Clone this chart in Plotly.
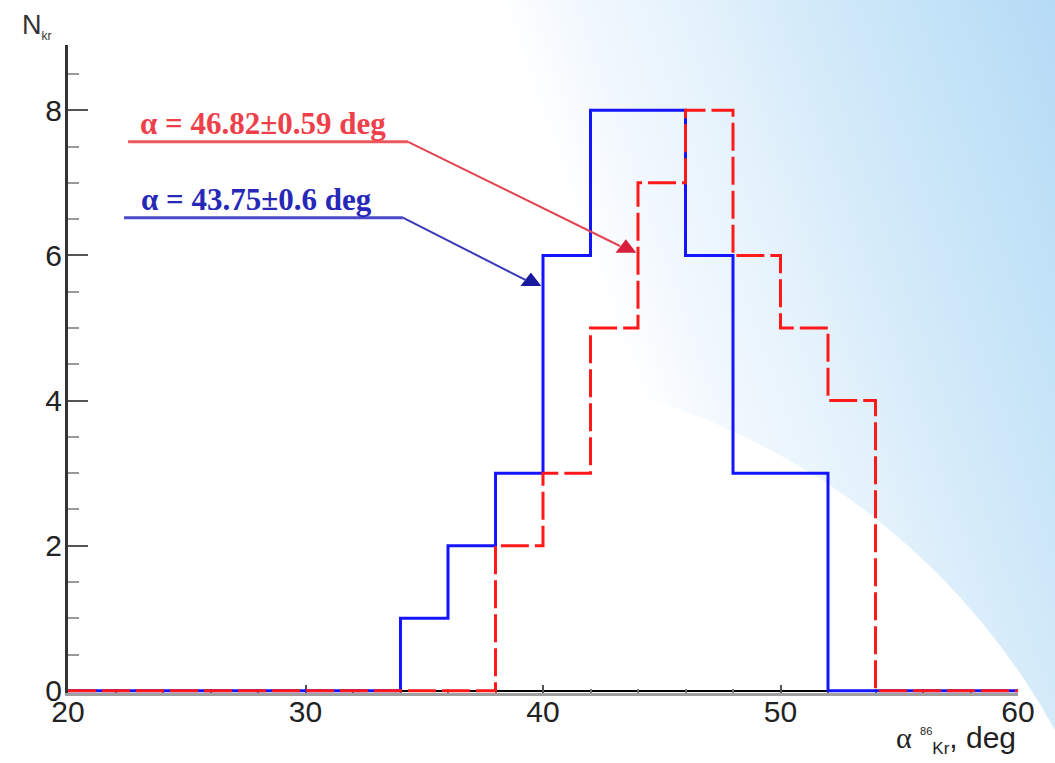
import base64
import plotly.graph_objects as go

# ---------------- data ----------------
bin_edges = [20 + 2 * i for i in range(21)]          # 20 .. 60, 2 deg bins
counts_blue = [0, 0, 0, 0, 0, 0, 0, 1, 2, 3, 6, 8, 8, 6, 3, 3, 0, 0, 0, 0]
counts_red = [0, 0, 0, 0, 0, 0, 0, 0, 0, 2, 3, 5, 7, 8, 6, 5, 4, 0, 0, 0]

x_ticks = [20, 30, 40, 50, 60]
y_ticks = [0, 2, 4, 6, 8]

label_red = "α = 46.82±0.59 deg"
label_blue = "α = 43.75±0.6 deg"

# annotation geometry (data units)
red_text_pos = (28.20, 7.82)
red_line = [(22.53, 7.565), (34.32, 7.565), (43.24, 6.13)]
red_head = (43.49, 6.10)
blue_text_pos = (27.95, 6.77)
blue_line = [(22.36, 6.52), (34.10, 6.52), (39.28, 5.66)]
blue_head = (39.49, 5.64)

# ---------------- figure geometry ----------------
W, H = 1055, 763
ML, MR, MT, MB = 68, 37, 45, 70
PW, PH = W - ML - MR, H - MT - MB

fig = go.Figure()

# background (slide-like gradient with white arc)
svg = (
    f"<svg xmlns='http://www.w3.org/2000/svg' width='{W}' height='{H}' "
    f"viewBox='0 0 {W} {H}' preserveAspectRatio='none'>"
    "<defs><linearGradient id='g' gradientUnits='userSpaceOnUse' "
    "x1='1055' y1='0' x2='520' y2='190'>"
    "<stop offset='0' stop-color='#b6dbf6'/>"
    "<stop offset='0.24' stop-color='#c5e4f8'/>"
    "<stop offset='0.47' stop-color='#d8ecfa'/>"
    "<stop offset='0.62' stop-color='#e6f3fc'/>"
    "<stop offset='0.80' stop-color='#f2f8fe'/>"
    "<stop offset='0.93' stop-color='#ffffff'/>"
    "</linearGradient></defs>"
    f"<rect width='{W}' height='{H}' fill='url(#g)'/>"
    "<circle cx='442' cy='1068' r='700' fill='#ffffff'/>"
    "</svg>"
)
src = "data:image/svg+xml;base64," + base64.b64encode(svg.encode()).decode()
fig.add_layout_image(
    source=src, xref="paper", yref="paper",
    x=-ML / PW, y=1 + MT / PH, sizex=W / PW, sizey=H / PH,
    xanchor="left", yanchor="top", sizing="stretch", layer="below",
)

# histograms
fig.add_trace(go.Scatter(
    x=bin_edges, y=counts_blue + [counts_blue[-1]], mode="lines",
    line=dict(color="rgb(20,20,255)", width=3, shape="hv"),
    cliponaxis=False, hoverinfo="skip", showlegend=False,
))
fig.add_trace(go.Scatter(
    x=bin_edges, y=counts_red + [counts_red[-1]], mode="lines",
    line=dict(color="rgb(255,25,25)", width=3, shape="hv", dash="28px,6px"),
    cliponaxis=False, hoverinfo="skip", showlegend=False,
))

# annotation leader lines
for pts, c_under, c_diag in [(red_line, "#e8585c", "#e24452"),
                             (blue_line, "#4848c8", "#3a3ab8")]:
    fig.add_shape(type="line", xref="x", yref="y",
                  x0=pts[0][0], y0=pts[0][1], x1=pts[1][0], y1=pts[1][1],
                  line=dict(color=c_under, width=3))
    fig.add_shape(type="line", xref="x", yref="y",
                  x0=pts[1][0], y0=pts[1][1], x1=pts[2][0], y1=pts[2][1],
                  line=dict(color=c_diag, width=2))

# arrow heads
fig.add_trace(go.Scatter(
    x=[red_head[0], blue_head[0]], y=[red_head[1], blue_head[1]], mode="markers",
    marker=dict(symbol="triangle-up", size=18, color=["#d81e3c", "#1a1aa0"]),
    cliponaxis=False, hoverinfo="skip", showlegend=False,
))

# text labels
fig.add_annotation(x=red_text_pos[0], y=red_text_pos[1], xref="x", yref="y",
                   text=f"<b>{label_red}</b>", showarrow=False,
                   font=dict(family="Liberation Serif", size=31, color="#ee3f4a"))
fig.add_annotation(x=blue_text_pos[0], y=blue_text_pos[1], xref="x", yref="y",
                   text=f"<b>{label_blue}</b>", showarrow=False,
                   font=dict(family="Liberation Serif", size=31, color="#2828b8"))

# axis titles
fig.add_annotation(
    xref="paper", yref="paper", x=1.0, y=-(760 - (MT + PH)) / PH,
    xanchor="right", yanchor="bottom", showarrow=False,
    text="<span style='font-family:Liberation Serif'>α</span> "
         "<sup><span style='font-size:11px'>86</span></sup>"
         "<sub><span style='font-size:17px'>Kr</span></sub>, deg",
    font=dict(family="Liberation Sans", size=30, color="#222222"),
)
fig.add_annotation(
    xref="paper", yref="paper", x=-48 / PW, y=1 + (MT - 8) / PH,
    xanchor="left", yanchor="top", showarrow=False,
    text="N<sub><span style='font-size:12px'>kr</span></sub>",
    font=dict(family="Liberation Sans", size=27, color="#333333"),
)

fig.update_layout(
    width=W, height=H,
    margin=dict(l=ML, r=MR, t=MT, b=MB, pad=0),
    paper_bgcolor="white", plot_bgcolor="rgba(0,0,0,0)",
    font=dict(family="Liberation Sans", size=30, color="#222222"),
    xaxis=dict(
        range=[20, 60], tickvals=x_ticks, ticktext=[str(v) for v in x_ticks],
        ticks="inside", ticklen=8, tickwidth=2, tickcolor="#555555",
        minor=dict(dtick=2, tick0=20, ticks="inside", ticklen=4, tickwidth=2,
                   tickcolor="#777777", showgrid=False),
        showline=True, linecolor="#a0a0a0", linewidth=3,
        showgrid=False, zeroline=False, layer="below traces",
        ticklabelstandoff=-10,
        tickfont=dict(size=30, color="#222222"), fixedrange=True,
    ),
    yaxis=dict(
        range=[-0.03, 8.9], tickvals=y_ticks, ticktext=[str(v) for v in y_ticks],
        ticks="inside", ticklen=20, tickwidth=2, tickcolor="#555555",
        minor=dict(dtick=0.5, tick0=0, ticks="inside", ticklen=11, tickwidth=2,
                   tickcolor="#999999", showgrid=False),
        showline=True, linecolor="#333333", linewidth=3,
        showgrid=False, zeroline=True, zerolinecolor="#000000", zerolinewidth=2,
        layer="below traces", ticklabelstandoff=-3,
        tickfont=dict(size=30, color="#222222"), fixedrange=True,
    ),
)

fig.write_html("out.html")
